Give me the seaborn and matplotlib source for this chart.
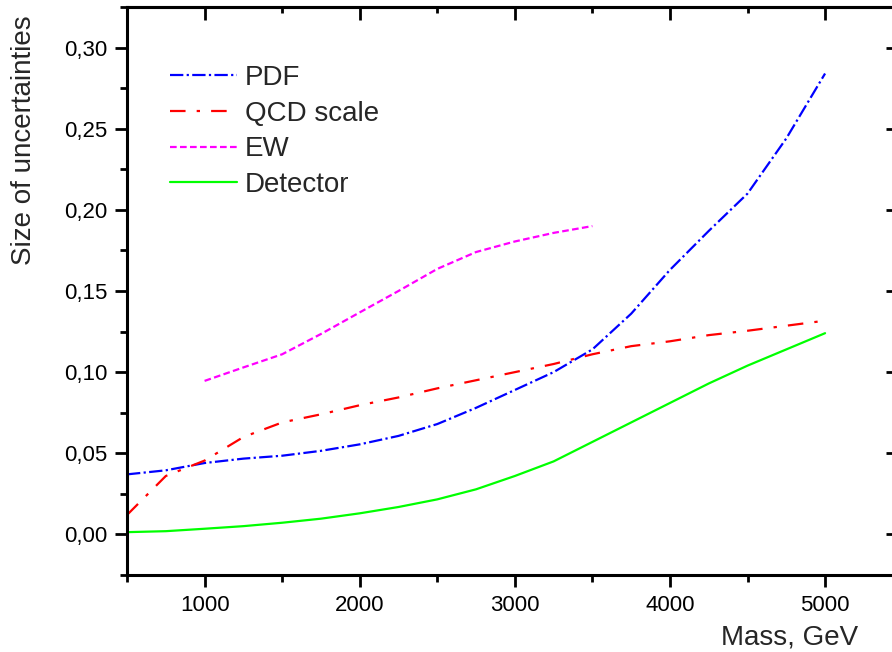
import numpy as np
import pandas as pd
import seaborn as sns
import matplotlib.pyplot as plt
from matplotlib.ticker import MultipleLocator, FuncFormatter, NullFormatter

mass = [500, 750, 1000, 1250, 1500, 1750, 2000, 2250, 2500, 2750,
        3000, 3250, 3500, 3750, 4000, 4250, 4500, 4750, 5000]
pdf = [0.037, 0.0395, 0.044, 0.0467, 0.0485, 0.0515, 0.0555, 0.0607, 0.068, 0.078,
       0.089, 0.100, 0.114, 0.136, 0.163, 0.187, 0.210, 0.244, 0.284]
qcd = [0.012, 0.036, 0.0455, 0.060, 0.069, 0.074, 0.0796, 0.0844, 0.090, 0.095,
       0.100, 0.105, 0.111, 0.116, 0.119, 0.1228, 0.1255, 0.1286, 0.1317]
detector = [0.0014, 0.002, 0.0035, 0.0051, 0.0072, 0.0097, 0.013, 0.0169, 0.0216, 0.0278,
            0.036, 0.045, 0.057, 0.069, 0.081, 0.093, 0.104, 0.114, 0.124]
ew_mass = [1000, 1250, 1500, 1750, 2000, 2250, 2500, 2750, 3000, 3250, 3500]
ew = [0.0946, 0.1029, 0.111, 0.1235, 0.1368, 0.150, 0.1636, 0.174, 0.1805, 0.1858, 0.190]

sns.set_style('ticks')
plt.rcParams['font.family'] = ['Liberation Sans', 'DejaVu Sans']

fig = plt.figure(figsize=(8.92, 6.52), dpi=100)
ax = fig.add_axes([0.1424, 0.1181, 0.8643, 0.8712])

lw = 1.6
sns.lineplot(x=mass, y=pdf, ax=ax, color='#0000ff', lw=lw, label='PDF')
ax.lines[-1].set_dashes((6, 1.5, 1, 1.5))
sns.lineplot(x=mass, y=qcd, ax=ax, color='#ff0000', lw=lw, label='QCD scale')
ax.lines[-1].set_dashes((7, 5, 1.5, 5))
sns.lineplot(x=ew_mass, y=ew, ax=ax, color='#ff00ff', lw=lw, label='EW')
ax.lines[-1].set_dashes((3, 1.5))
sns.lineplot(x=mass, y=detector, ax=ax, color='#00ff00', lw=lw, label='Detector')

ax.set_xlim(500, 5470)
ax.set_ylim(-0.025, 0.325)
ax.xaxis.set_major_locator(MultipleLocator(1000))
ax.xaxis.set_minor_locator(MultipleLocator(500))
ax.yaxis.set_major_locator(MultipleLocator(0.05))
ax.yaxis.set_minor_locator(MultipleLocator(0.025))
ax.yaxis.set_major_formatter(FuncFormatter(lambda v, p: f'{v:.2f}'.replace('.', ',')))
ax.xaxis.set_major_formatter(FuncFormatter(lambda v, p: f'{v:.0f}'))

for s in ax.spines.values():
    s.set_linewidth(2.2)
    s.set_color('black')
ax.tick_params(which='both', width=2.0, colors='black', labelsize=16, direction='out')
ax.tick_params(which='major', length=8.6)
ax.tick_params(which='minor', length=5)
ax.tick_params(axis='x', pad=6)
ax.tick_params(axis='y', pad=5.5)

# inward ticks on top and right
top = ax.secondary_xaxis('top')
top.xaxis.set_major_locator(MultipleLocator(1000))
top.xaxis.set_minor_locator(MultipleLocator(500))
top.xaxis.set_major_formatter(NullFormatter())
right = ax.secondary_yaxis('right')
right.yaxis.set_major_locator(MultipleLocator(0.05))
right.yaxis.set_minor_locator(MultipleLocator(0.025))
right.yaxis.set_major_formatter(NullFormatter())
for sec in (top, right):
    sec.tick_params(which='both', direction='in', width=2.0, colors='black')
    sec.tick_params(which='major', length=9)
    sec.tick_params(which='minor', length=4)
    for s in sec.spines.values():
        s.set_linewidth(2.2)

ax.set_xlabel('Mass, GeV', fontsize=20, loc='right')
ax.xaxis.set_label_coords(0.948, -0.087)
ax.set_ylabel('Size of uncertainties', fontsize=20, loc='top')
ax.yaxis.set_label_coords(-0.117, 0.986)

ax.legend(loc='upper left', bbox_to_anchor=(0.056, 0.898), frameon=False,
          borderpad=0, borderaxespad=0, fontsize=20, handlelength=2.4,
          handletextpad=0.3, labelspacing=0.35)

fig.savefig('out.png', dpi=100)
